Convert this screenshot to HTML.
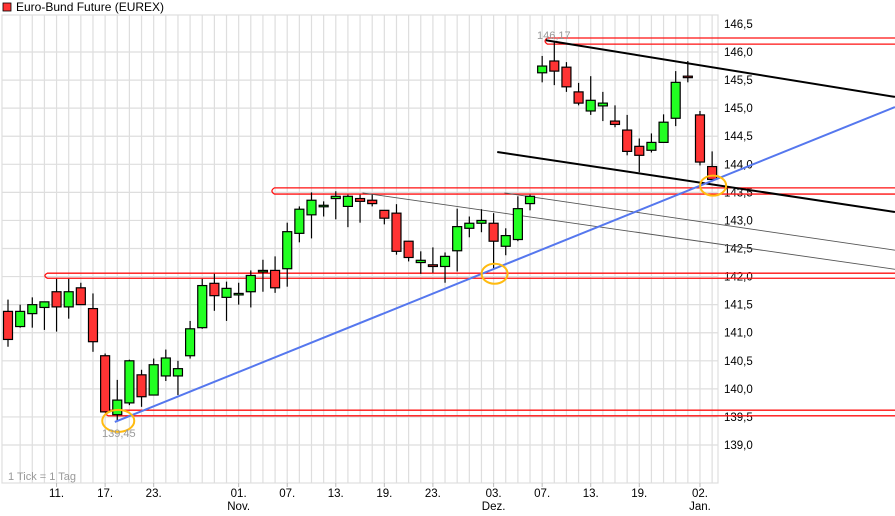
<!DOCTYPE html>
<html><head><meta charset="utf-8"><style>
html,body{margin:0;padding:0;background:#fff;width:895px;height:516px;overflow:hidden}
svg{display:block;font-family:"Liberation Sans",sans-serif}
</style></head><body>
<svg id="chart" width="895" height="516" viewBox="0 0 895 516"></svg>
<script>
const opens=[141.38,141.11,141.34,141.45,141.73,141.46,141.80,141.43,140.59,139.54,139.75,140.25,139.89,140.23,140.23,140.59,141.09,141.88,141.63,141.68,141.73,142.11,142.11,142.14,142.77,143.10,143.27,143.39,143.25,143.39,143.36,143.18,143.13,142.63,142.25,142.21,142.18,142.46,142.86,142.95,142.95,142.54,142.66,143.30,145.63,145.84,145.73,145.29,144.95,145.04,144.77,144.61,144.32,144.25,144.39,144.82,145.57,144.88,143.96];
const highs=[141.59,141.50,141.63,141.55,141.96,141.96,141.89,141.70,140.63,140.16,140.52,140.34,140.54,140.70,140.50,141.21,141.96,142.05,141.91,141.89,142.11,142.30,142.36,142.96,143.25,143.50,143.34,143.52,143.46,143.46,143.46,143.18,143.29,142.63,142.45,142.52,142.43,143.21,143.07,143.20,143.13,142.86,143.43,143.46,145.93,146.17,145.82,145.45,145.57,145.29,145.05,144.88,144.46,144.55,144.89,145.66,145.84,144.95,144.23];
const lows=[140.75,141.09,141.09,141.05,141.02,141.25,141.50,140.66,139.59,139.43,139.71,139.68,139.89,140.14,139.89,140.54,141.07,141.39,141.21,141.50,141.45,141.73,141.71,141.82,142.61,142.68,143.07,143.02,142.88,142.96,143.25,142.93,142.39,142.27,142.05,142.07,141.89,142.09,142.70,142.79,142.13,142.38,142.63,143.18,145.46,145.41,145.29,145.05,144.88,144.77,144.66,144.16,143.86,144.21,144.38,144.68,145.46,143.98,143.70];
const closes=[140.88,141.38,141.50,141.55,141.46,141.73,141.50,140.84,139.59,139.80,140.50,139.86,140.43,140.55,140.36,141.07,141.84,141.66,141.79,141.70,142.02,142.11,141.80,142.80,143.20,143.36,143.27,143.43,143.43,143.34,143.30,143.04,142.45,142.34,142.29,142.18,142.36,142.89,142.95,143.00,142.63,142.73,143.21,143.43,145.75,145.66,145.38,145.09,145.14,145.09,144.71,144.23,144.16,144.39,144.75,145.46,145.55,144.04,143.73];
const yTicks=[146.5,146.0,145.5,145.0,144.5,144.0,143.5,143.0,142.5,142.0,141.5,141.0,140.5,140.0,139.5,139.0];
const dateIdx=[4,8,12,19,23,27,31,35,40,44,48,52,57];
const dateLabels=["11.","17.","23.","01.","07.","13.","19.","23.","03.","07.","13.","19.","02."];
const monthLabels=["","","","Nov.","","","","","Dez.","","","","Jan."];
const redBands=[[44.2,146.25,146.14],[21.7,143.58,143.47],[3.0,142.06,141.97],[8.0,139.62,139.52]];
const blueLine=[8.8,139.41,73.06,145.02];
const blackLines=[[44.3,146.21,73.06,145.20],[40.3,144.22,73.06,143.15]];
const grayLines=[[29.2,143.49,73.06,142.13],[40.9,143.49,73.06,142.47]];
const circles=[[9,139.43],[40,142.05],[58,143.62]];

const X=i=>8+12.14*i;
const Y=p=>445-(p-139)*56.14;
const svg=document.getElementById('chart');
const NS='http://www.w3.org/2000/svg';
function mk(tag,attrs,parent){const e=document.createElementNS(NS,tag);for(const k in attrs)e.setAttribute(k,attrs[k]);(parent||svg).appendChild(e);return e;}

const ts=mk('rect',{x:3,y:3,width:8,height:8,fill:'#f33',stroke:'#000','stroke-width':0.8});


const tt=mk('text',{x:16,y:11,'font-size':12,fill:'#000'});tt.textContent='Euro-Bund Future (EUREX)';



const grid=mk('g',{stroke:'#dedede','stroke-width':1.2});


for(let i=1;i<opens.length;i++){mk('line',{x1:X(i),x2:X(i),y1:15,y2:483},grid);}
yTicks.forEach(p=>{if(p<146.5)mk('line',{x1:2,x2:718,y1:Y(p),y2:Y(p)},grid);});
mk('rect',{x:2,y:15,width:716,height:468,fill:'none'},grid);

yTicks.forEach(p=>{const t=mk('text',{x:724,y:Y(p)+4,'font-size':11.5,fill:'#000'});t.textContent=p.toFixed(1).replace('.',',');

});
dateIdx.forEach((d,k)=>{const x=X(d);mk('line',{x1:x,x2:x,y1:483,y2:487,stroke:'#bbb'});
const t=mk('text',{x:x,y:497,'font-size':11.5,'text-anchor':'middle',fill:'#000'});t.textContent=dateLabels[k];


if(monthLabels[k]){const m=mk('text',{x:x,y:510,'font-size':11.5,'text-anchor':'middle',fill:'#000'});m.textContent=monthLabels[k];

}});
const note=mk('text',{x:8,y:480,'font-size':11,fill:'#999'});note.textContent='1 Tick = 1 Tag';



redBands.forEach(b=>{const x0=X(b[0]),y1=Y(b[1]),y2=Y(b[2]);
const p=mk('path',{d:`M895 ${y1} H${x0+3} Q${x0-2} ${(y1+y2)/2} ${x0+3} ${y2} H895`,fill:'none',stroke:'#f11','stroke-width':1.3});

});
grayLines.forEach(l=>{const e=mk('line',{x1:X(l[0]),y1:Y(l[1]),x2:X(l[2]),y2:Y(l[3]),stroke:'#555','stroke-width':0.9});

});

for(let i=0;i<opens.length;i++){
 const g=mk('g',{});
 
 
 const x=X(i),up=closes[i]>=opens[i];
 mk('line',{x1:x,x2:x,y1:Y(highs[i]),y2:Y(lows[i]),stroke:'#000','stroke-width':1.2},g);
 const top=Y(Math.max(opens[i],closes[i])),bot=Y(Math.min(opens[i],closes[i]));
 const h=Math.max(bot-top,1.5);
 mk('rect',{x:x-4.5,y:top,width:9,height:h,fill:up?'#2f2':'#f33',stroke:'#000','stroke-width':1.2},g);
}

blackLines.forEach(l=>{const e=mk('line',{x1:X(l[0]),y1:Y(l[1]),x2:X(l[2]),y2:Y(l[3]),stroke:'#000','stroke-width':2});

});
const bl=mk('line',{x1:X(blueLine[0]),y1:Y(blueLine[1]),x2:X(blueLine[2]),y2:Y(blueLine[3]),stroke:'#5577ee','stroke-width':2});



circles.forEach((c,k)=>{const e=mk('ellipse',{cx:X(c[0])+1,cy:Y(c[1]),rx:k==0?16:13,ry:k==0?11:10,fill:'none',stroke:'#fb1','stroke-width':2});

});

const l1=mk('text',{x:537,y:39,'font-size':11,fill:'#999'});l1.textContent='146,17';


const l2=mk('text',{x:102,y:437,'font-size':11,fill:'#999'});l2.textContent='139,45';


</script>
</body></html>
